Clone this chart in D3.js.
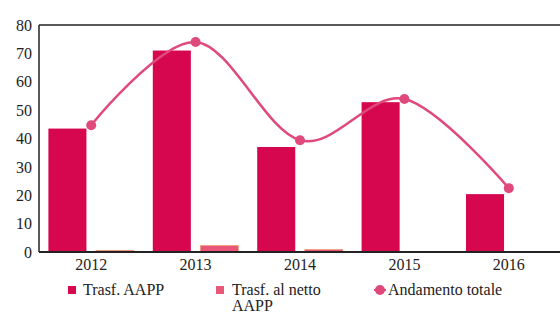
<!DOCTYPE html>
<html><head><meta charset="utf-8">
<script src="https://cdn.jsdelivr.net/npm/d3@7"></script>
<style>body{margin:0;background:#fff}svg{display:block}
text{font-family:'Liberation Serif','Times New Roman',serif}</style>
</head><body><svg id="c" width="560" height="323"></svg>
<script>
const years = ["2012","2013","2014","2015","2016"];
const trasfAAPP = [43.5, 71, 37, 52.8, 20.4];
const trasfNetto = [0.6, 2.3, 0.9, 0, 0];
const andamento = [44.7, 74, 39.4, 53.9, 22.5];
const yTicks = [0,10,20,30,40,50,60,70,80];
const legendLabels = ["Trasf. AAPP", "Trasf. al netto AAPP", "Andamento totale"];

const svg = d3.select("#c");
const font = "'Liberation Serif', 'Times New Roman', serif";
const L = 39, R = 561, T = 25, B = 252;
const x0 = d3.scaleBand().domain(years).range([L, R]).paddingInner(0.18).paddingOuter(0.09);
const x1 = d3.scaleBand().domain([0,1]).range([0, x0.bandwidth()]).paddingInner(0.2);
const y = d3.scaleLinear().domain([0, 80]).range([B, T]);

const colRed = "#d7074f", colPink = "#ea5677", colLine = "#e0497c";

// bars
const g = svg.append("g");
g.selectAll("rect.a").data(years).join("rect")
  .attr("x", d => x0(d) + x1(0)).attr("width", x1.bandwidth())
  .attr("y", (d,i) => y(trasfAAPP[i])).attr("height", (d,i) => B - y(trasfAAPP[i]))
  .attr("fill", colRed);
g.selectAll("rect.b").data(years).join("rect")
  .attr("x", d => x0(d) + x1(1)).attr("width", x1.bandwidth())
  .attr("y", (d,i) => y(trasfNetto[i])).attr("height", (d,i) => B - y(trasfNetto[i]))
  .attr("fill", colPink).attr("stroke", "#f0a070").attr("stroke-width", 0.6);

// frame lines
svg.append("line").attr("x1", L).attr("x2", 560).attr("y1", T).attr("y2", T).attr("stroke", "#222").attr("stroke-width", 1.5);
svg.append("line").attr("x1", L).attr("x2", L).attr("y1", T).attr("y2", B).attr("stroke", "#222").attr("stroke-width", 1.5);

// y axis
const ya = svg.append("g").attr("transform", `translate(${L},0)`)
  .call(d3.axisLeft(y).tickValues(yTicks).tickSize(0).tickPadding(7));
ya.select(".domain").remove();
ya.selectAll("text").style("font-family", font).style("font-size", "16px").attr("fill", "#222");

// x axis
const xa = svg.append("g").attr("transform", `translate(0,${B})`)
  .call(d3.axisBottom(x0).tickSize(0).tickPadding(7));
xa.select(".domain").attr("stroke", "#222").attr("stroke-width", 1.8).attr("d", `M${L},0H560`);
xa.selectAll("text").style("font-family", font).style("font-size", "16px").attr("fill", "#222");

// line
const cx = d => x0(d) + x0.bandwidth()/2;
const line = d3.line().x((d,i) => cx(years[i])).y(d => y(d)).curve(d3.curveCardinal.tension(0));
svg.append("path").datum(andamento).attr("d", line).attr("fill", "none")
  .attr("stroke", colLine).attr("stroke-width", 2.5);
svg.selectAll("circle.p").data(andamento).join("circle")
  .attr("cx", (d,i) => cx(years[i])).attr("cy", d => y(d)).attr("r", 5).attr("fill", colLine);

// legend
const lg = svg.append("g").style("font-family", font).style("font-size", "16px").attr("fill", "#222");
const lx = [72, 220, 380];
lg.append("rect").attr("x", lx[0]-4).attr("y", 286).attr("width", 8).attr("height", 8).attr("fill", colRed);
lg.append("text").attr("x", 83).attr("y", 295).text(legendLabels[0]);
lg.append("rect").attr("x", lx[1]-4).attr("y", 286).attr("width", 8).attr("height", 8).attr("fill", colPink);
const words = legendLabels[1].split(" ");
lg.append("text").attr("x", 232).attr("y", 295).text(words.slice(0,3).join(" "));
lg.append("text").attr("x", 232).attr("y", 311).text(words.slice(3).join(" "));
lg.append("line").attr("x1", lx[2]-6).attr("x2", lx[2]+6).attr("y1", 290).attr("y2", 290).attr("stroke", colLine).attr("stroke-width", 2);
lg.append("circle").attr("cx", lx[2]).attr("cy", 290).attr("r", 5).attr("fill", colLine);
lg.append("text").attr("x", 388).attr("y", 295).text(legendLabels[2]);
</script></body></html>
